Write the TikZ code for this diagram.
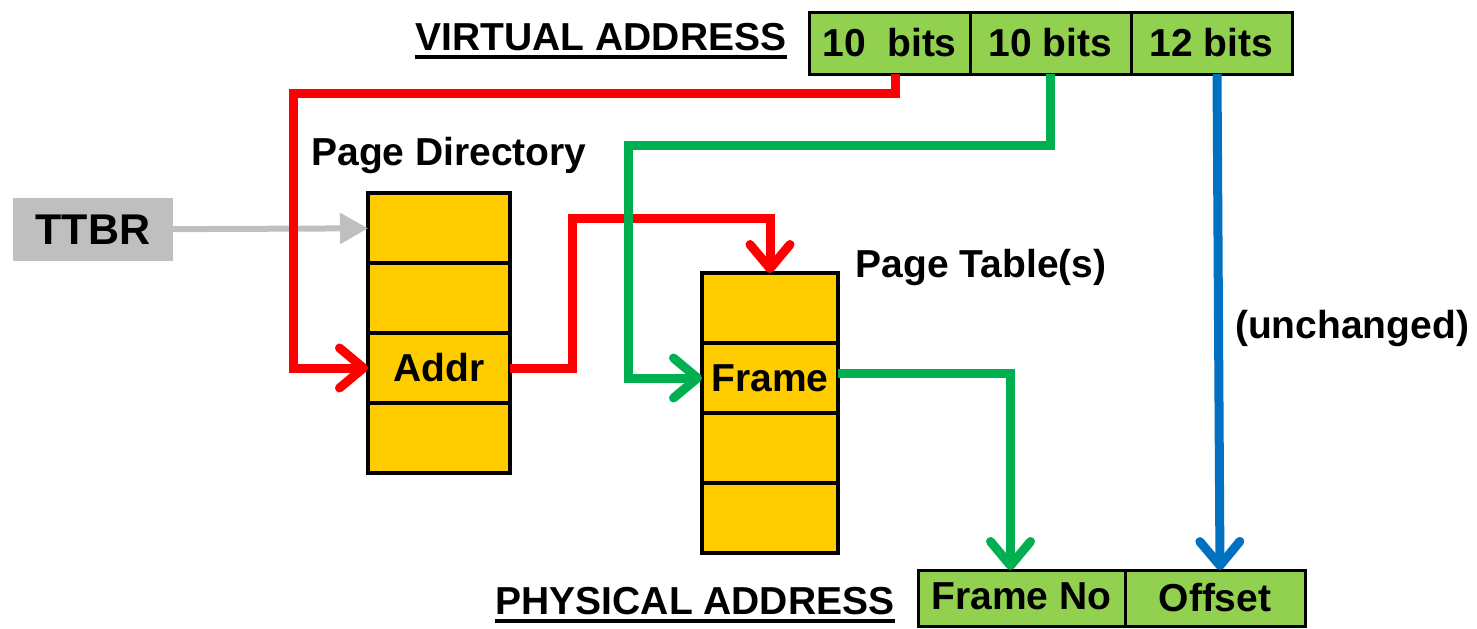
\documentclass[tikz,border=0pt]{standalone}
\usepackage{fontspec}
\setmainfont{Liberation Sans}
\usetikzlibrary{arrows.meta, positioning}

\definecolor{bitgreen}{HTML}{92D050}
\definecolor{slotyellow}{HTML}{FFCC00}
\definecolor{linkred}{HTML}{FF0000}
\definecolor{linkgreen}{HTML}{00B050}
\definecolor{linkblue}{HTML}{0070C0}
\definecolor{regray}{HTML}{BFBFBF}

\begin{document}
\begin{tikzpicture}[
  x=0.5pt, y=-0.5pt,
  every node/.style={font=\bfseries\fontsize{19.5}{22}\selectfont},
  field/.style={draw, line width=1.5pt, fill=bitgreen, minimum width=80.5pt, minimum height=31pt, inner sep=0pt, outer sep=0pt},
  slot/.style={draw, line width=2pt, fill=slotyellow, minimum width=71pt, minimum height=35pt, inner sep=0pt, outer sep=0pt},
  title/.style={anchor=base, inner sep=0pt},
  barb/.style={-{Straight Barb[length=12pt, width=20pt, round]}},
  redlink/.style={barb, line width=4.5pt, linkred},
  greenlink/.style={barb, line width=4.5pt, linkgreen},
  bluelink/.style={barb, line width=4.5pt, linkblue},
]
\useasboundingbox (0,0) rectangle (1477,628);

% virtual address fields
\node[field] (va1) at (889.5,43) {10\ \ bits};
\node[field, right=0pt of va1] (va2) {10 bits};
\node[field, right=0pt of va2] (va3) {12 bits};
\node[title] (vtitle) at (601,50) {VIRTUAL ADDRESS};
\draw[line width=2pt] ([yshift=-3.5pt]vtitle.base west) -- ([yshift=-3.5pt]vtitle.base east);

% base register
\node[fill=regray, minimum width=80pt, minimum height=31.5pt, inner sep=0pt, outer sep=0pt,
      font=\bfseries\fontsize{21.5}{24}\selectfont] (ttbr) at (93,229.5) {TTBR};

% page directory
\node[title] (pdtitle) at (449,165) {Page Directory};
\node[slot] (pd1) at (439,228) {};
\node[slot, below=0pt of pd1] (pd2) {};
\node[slot, below=0pt of pd2] (pd3) {Addr};
\node[slot, below=0pt of pd3] (pd4) {};

% page table
\node[title] (pttitle) at (981,277) {Page Table(s)};
\node[slot, minimum width=68pt] (pt1) at (770,308) {};
\node[slot, minimum width=68pt, below=0pt of pt1] (pt2) {Frame};
\node[slot, minimum width=68pt, below=0pt of pt2] (pt3) {};
\node[slot, minimum width=68pt, below=0pt of pt3] (pt4) {};

% physical address fields
\node[field, minimum width=103.5pt, minimum height=28pt, text depth=2pt] (pa1) at (1021.5,598) {Frame No};
\node[field, minimum width=90pt, minimum height=28pt, right=0pt of pa1] (pa2) {Offset};
\node[title] (ptitle) at (695,614) {PHYSICAL ADDRESS};
\draw[line width=2pt] ([yshift=-3.5pt]ptitle.base west) -- ([yshift=-3.5pt]ptitle.base east);

\node[title] (unch) at (1352,338) {(unchanged)};

% links
\draw[line width=3pt, regray, -{Triangle[length=14pt, width=15pt]}] (ttbr) -- (pd1);
\draw[redlink] ([xshift=3pt]va1.south) |- ++(-602,19) |- (pd3.west);
\draw[redlink] (pd3.east) -- ++(62,0) |- ([yshift=27.5pt]pt1.north) -- (pt1.north);
\draw[greenlink] (va2.south) -- ++(0,71) -| ([xshift=-37pt]pt2.west) -- (pt2.west);
\draw[greenlink] ([yshift=2.5pt]pt2.east) -| ([xshift=-5.5pt]pa1.north);
\draw[bluelink] ([xshift=2.75pt]va3.south) -- ([xshift=2.5pt]pa2.north);

\end{tikzpicture}
\end{document}
